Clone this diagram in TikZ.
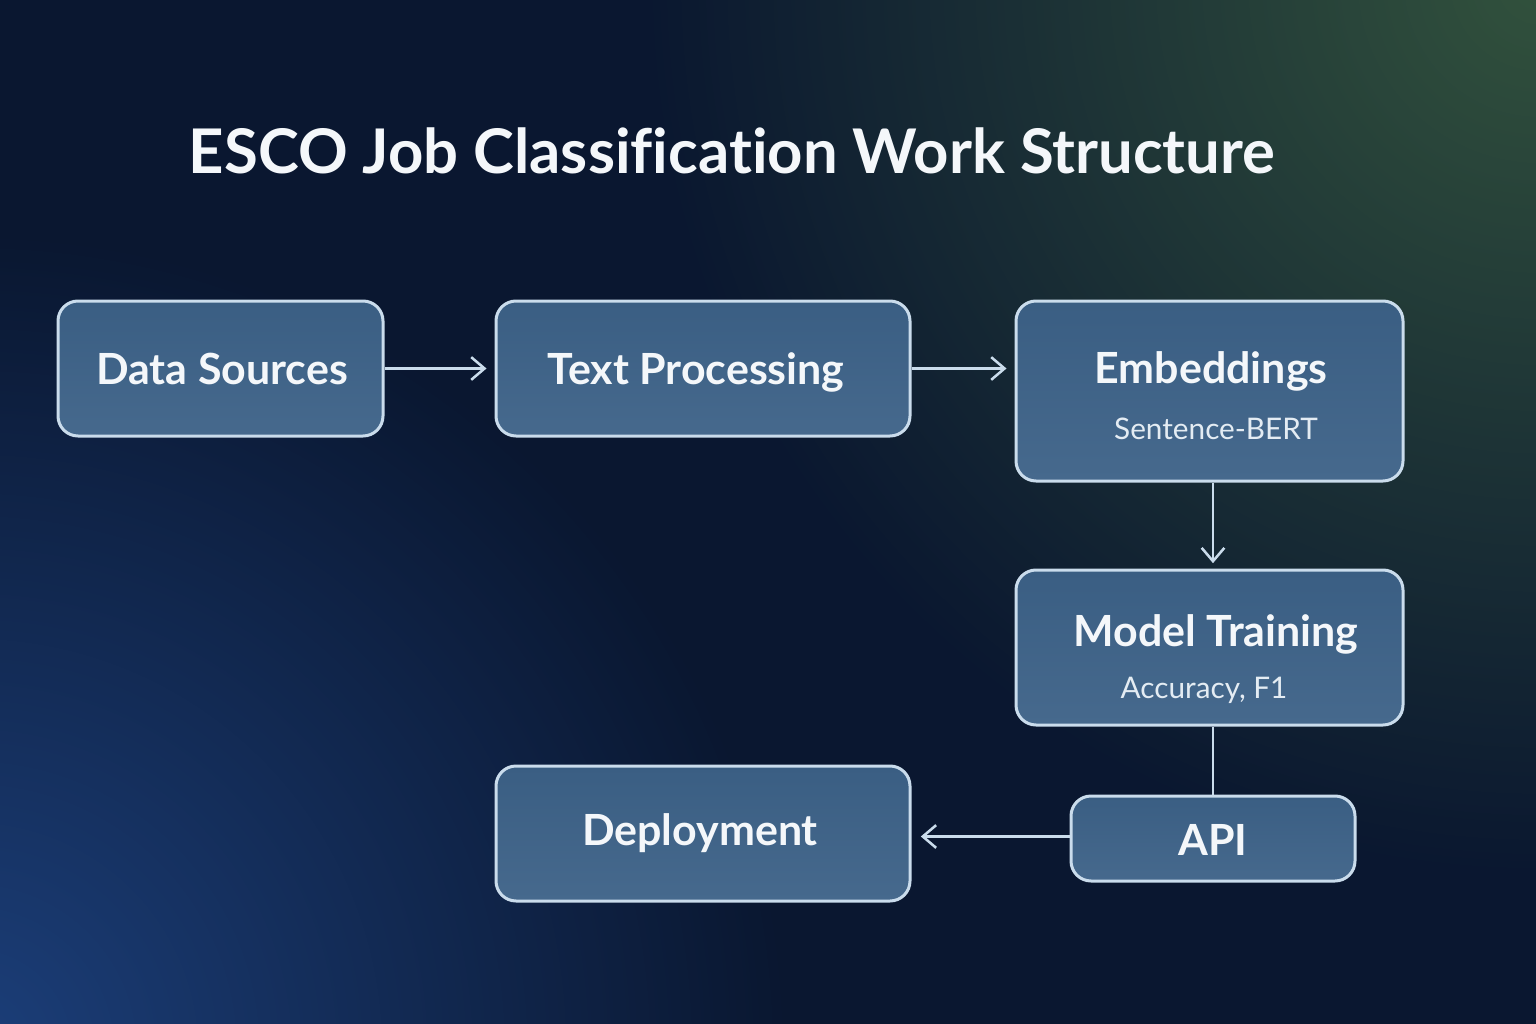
\documentclass[tikz,border=0pt]{standalone}
\usepackage{fontspec}
\setmainfont{Lato}[Ligatures=CommonOff]
\usetikzlibrary{arrows.meta,calc,fadings}
\definecolor{bgbase}{HTML}{0A1730}
\definecolor{bggreen}{HTML}{32523D}
\definecolor{bgblue}{HTML}{1C3F7A}
\definecolor{boxtop}{HTML}{3A5E83}
\definecolor{boxbot}{HTML}{46698D}
\definecolor{edge}{HTML}{CADCEC}
\definecolor{txt}{HTML}{F4F7FA}
\definecolor{subtxt}{HTML}{E4ECF3}
\tikzfading[name=glowfade, inner color=transparent!0, outer color=transparent!100]
\tikzset{
  stagebox/.style={draw=edge, line width=2.25pt, rounded corners=15pt,
    top color=boxtop, bottom color=boxbot, inner sep=0pt},
  headtxt/.style={text=txt, font=\fontsize{32.2}{38}\selectfont\bfseries, inner sep=0pt, anchor=base},
  subtext/.style={text=subtxt, font=\fontsize{22.3}{26}\selectfont, inner sep=0pt, anchor=base},
  flow/.style={draw=edge, line width=1.9pt, -{Straight Barb[length=10pt,width=17pt,line width=1.9pt]}},
  link/.style={draw=edge, line width=1.9pt}
}
\begin{document}
\begin{tikzpicture}[x=0.75pt,y=-0.75pt]
\useasboundingbox (0,0) rectangle (1536,1024);
\fill[bgbase] (0,0) rectangle (1536,1024);
\begin{scope}
\clip (0,0) rectangle (1536,1024);
\fill[bggreen, path fading=glowfade] (1540,-20) circle (900);
\fill[bgblue, path fading=glowfade] (-30,1050) circle (820);
\end{scope}

\node[text=txt, font=\fontsize{46.2}{54}\selectfont\bfseries, inner sep=0pt, anchor=base] (title) at (732,173) {ESCO Job Classification Work Structure};

\node[stagebox, minimum width=243.75pt, minimum height=101.25pt] (ds) at (220.5,368.5) {};
\node[headtxt] (dst) at (222,384) {Data Sources};

\node[stagebox, minimum width=310.5pt, minimum height=101.25pt] (tp) at (703,368.5) {};
\node[headtxt] (tpt) at (696,384) {Text Processing};

\node[stagebox, minimum width=290.25pt, minimum height=135pt] (em) at (1209.5,391) {};
\node[headtxt] (emt) at (1211,383) {Embeddings};
\node[subtext] (ems) at (1216,439) {Sentence-BERT};

\node[stagebox, minimum width=290.25pt, minimum height=116.25pt] (mt) at (1209.5,647.5) {};
\node[headtxt] (mtt) at (1216,646) {Model Training};
\node[subtext] (mts) at (1204,698) {Accuracy, F1};

\node[stagebox, minimum width=213pt, minimum height=63.75pt] (api) at (1213,838.5) {};
\node[headtxt] (apit) at (1213,855) {API};

\node[stagebox, minimum width=310.5pt, minimum height=101.25pt] (dep) at (703,833.5) {};
\node[headtxt] (dept) at (700,845) {Deployment};

\draw[flow, shorten >=6pt] (ds.east) -- (tp.west);
\draw[flow, shorten >=6pt] (tp.east) -- (em.west |- tp.east);
\draw[flow, shorten >=4pt] (em.south -| api.center) -- (mt.north -| api.center);
\draw[link] (mt.south -| api.center) -- (api.north);
\draw[flow, shorten >=7pt] ($(api.west)+(0,-2)$) -- ($(api.west -| dep.east)+(0,-2)$);
\end{tikzpicture}
\end{document}
